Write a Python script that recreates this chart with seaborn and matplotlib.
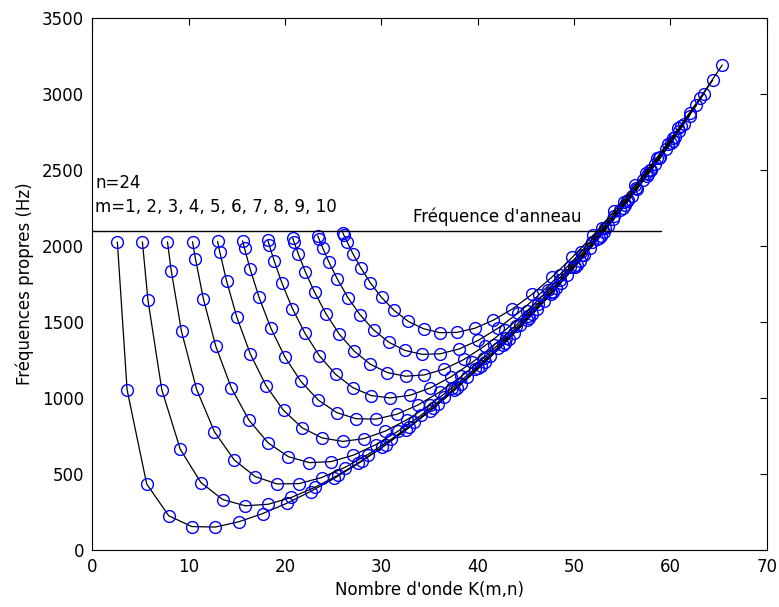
import pandas as pd
import matplotlib
matplotlib.use("Agg")
import matplotlib.pyplot as plt
import seaborn as sns

# modes m = 1..10, circumferential order n = 0..24 (25 points per curve)
mode_m = [1, 2, 3, 4, 5, 6, 7, 8, 9, 10]

K1 = [2.6, 3.61, 5.64, 7.94, 10.33, 12.77, 15.22, 17.69, 20.17, 22.65, 25.13, 27.62, 30.11,
      32.60, 35.10, 37.59, 40.08, 42.58, 45.08, 47.57, 50.07, 52.56, 55.06, 57.56, 60.06]
F1 = [2025, 1052, 432, 222, 151, 148, 183, 237, 304, 382, 469, 567, 673,
      789, 915, 1049, 1193, 1346, 1509, 1680, 1861, 2051, 2251, 2460, 2678]

K2 = [5.2, 5.77, 7.21, 9.13, 11.27, 13.54, 15.88, 18.26, 20.66, 23.09, 25.54, 27.99, 30.45,
      32.91, 35.38, 37.86, 40.34, 42.82, 45.30, 47.78, 50.27, 52.76, 55.25, 57.73, 60.23]
F2 = [2025, 1645, 1053, 660, 441, 329, 288, 298, 343, 409, 491, 586, 691,
      806, 931, 1065, 1209, 1361, 1524, 1695, 1876, 2066, 2266, 2475, 2693]

K3 = [7.8, 8.19, 9.26, 10.82, 12.68, 14.73, 16.91, 19.16, 21.47, 23.81, 26.19, 28.58, 31.0,
      33.42, 35.86, 38.30, 40.75, 43.21, 45.67, 48.14, 50.60, 53.08, 55.55, 58.03, 60.50]
F3 = [2026, 1837, 1436, 1056, 775, 590, 480, 432, 434, 474, 540, 625, 725,
      837, 959, 1092, 1236, 1388, 1550, 1722, 1902, 2092, 2292, 2501, 2719]

K4 = [10.4, 10.70, 11.54, 12.82, 14.43, 16.26, 18.25, 20.36, 22.54, 24.79, 27.08, 29.40, 31.75,
      34.12, 36.51, 38.92, 41.33, 43.75, 46.19, 48.63, 51.07, 53.52, 55.97, 58.43, 60.89]
F4 = [2027, 1916, 1648, 1338, 1064, 852, 702, 611, 572, 579, 621, 690, 780,
      884, 1003, 1134, 1275, 1426, 1587, 1758, 1938, 2129, 2328, 2536, 2754]

K5 = [13.0, 13.24, 13.93, 15.01, 16.40, 18.03, 19.85, 21.80, 23.85, 25.99, 28.18, 30.42, 32.70,
      35.00, 37.34, 39.69, 42.06, 44.44, 46.84, 49.25, 51.66, 54.09, 56.52, 58.95, 61.39]
F5 = [2029, 1957, 1770, 1528, 1288, 1079, 916, 801, 735, 712, 730, 780, 856,
      951, 1064, 1189, 1328, 1477, 1637, 1806, 1986, 2175, 2374, 2582, 2800]

K6 = [15.6, 15.80, 16.38, 17.31, 18.53, 19.99, 21.64, 23.44, 25.36, 27.38, 29.47, 31.62, 33.81,
      36.05, 38.32, 40.62, 42.93, 45.27, 47.63, 50.0, 52.38, 54.77, 57.17, 59.58, 61.99]
F6 = [2033, 1983, 1847, 1660, 1458, 1268, 1108, 985, 902, 861, 859, 891, 952,
      1037, 1141, 1261, 1394, 1541, 1698, 1866, 2045, 2234, 2432, 2640, 2856]

K7 = [18.2, 18.37, 18.87, 19.68, 20.77, 22.08, 23.58, 25.25, 27.04, 28.94, 30.92, 32.98, 35.09,
      37.25, 39.45, 41.68, 43.95, 46.23, 48.54, 50.87, 53.21, 55.57, 57.93, 60.31, 62.70]
F7 = [2040, 2004, 1902, 1755, 1587, 1423, 1275, 1154, 1066, 1014, 998, 1016, 1064,
      1138, 1233, 1346, 1475, 1618, 1773, 1939, 2116, 2303, 2500, 2707, 2924]

K8 = [20.8, 20.95, 21.39, 22.11, 23.08, 24.27, 25.64, 27.18, 28.86, 30.64, 32.52, 34.48, 36.51,
      38.59, 40.71, 42.88, 45.08, 47.32, 49.57, 51.85, 54.15, 56.47, 58.80, 61.15, 63.50]
F8 = [2051, 2023, 1945, 1829, 1693, 1551, 1418, 1307, 1220, 1165, 1141, 1150, 1188,
      1252, 1340, 1446, 1569, 1708, 1859, 2023, 2198, 2383, 2580, 2786, 3002]

K9 = [23.4, 23.53, 23.93, 24.57, 25.45, 26.53, 27.79, 29.22, 30.78, 32.46, 34.24, 36.11, 38.05,
      40.05, 42.10, 44.20, 46.34, 48.52, 50.72, 52.95, 55.20, 57.48, 59.77, 62.08, 64.40]
F9 = [2066, 2045, 1984, 1891, 1779, 1659, 1546, 1445, 1365, 1311, 1285, 1289, 1320,
      1377, 1457, 1557, 1676, 1810, 1958, 2119, 2291, 2477, 2670, 2876, 3091]

K10 = [26.0, 26.12, 26.48, 27.06, 27.86, 28.85, 30.02, 31.34, 32.80, 34.38, 36.07, 37.85, 39.70,
       41.62, 43.60, 45.63, 47.71, 49.82, 51.97, 54.15, 56.36, 58.59, 60.84, 63.11, 65.39]
F10 = [2087, 2069, 2022, 1946, 1856, 1757, 1660, 1574, 1502, 1454, 1428, 1430, 1457,
       1510, 1584, 1680, 1794, 1924, 2068, 2227, 2398, 2580, 2773, 2976, 3191]

# ring frequency line
ring_K = [0, 59]
ring_f = [2100, 2100]

K_all = [K1, K2, K3, K4, K5, K6, K7, K8, K9, K10]
F_all = [F1, F2, F3, F4, F5, F6, F7, F8, F9, F10]

rows = []
for m, ks, fs in zip(mode_m, K_all, F_all):
    for k, f in zip(ks, fs):
        rows.append((m, k, f))
df = pd.DataFrame(rows, columns=["m", "K", "f"])

sns.set_theme(style="white")
plt.rcParams["font.family"] = ["DejaVu Sans"]
plt.rcParams["axes.edgecolor"] = "black"
plt.rcParams["text.color"] = "black"
plt.rcParams["axes.labelcolor"] = "black"
plt.rcParams["xtick.color"] = "black"
plt.rcParams["ytick.color"] = "black"

fig = plt.figure(figsize=(7.79, 6.07), dpi=100)
ax = fig.add_axes([0.1185, 0.0947, 0.8657, 0.8756])

sns.lineplot(data=df, x="K", y="f", units="m", estimator=None, sort=False,
             color="black", linewidth=0.9, marker="o", markersize=8.5,
             markerfacecolor="none", markeredgecolor="#0000ff",
             markeredgewidth=1.0, legend=False, ax=ax)
sns.lineplot(x=ring_K, y=ring_f, color="black", linewidth=1.0, ax=ax, legend=False)

ax.text(0.3, 2414, "n=24", va="center", ha="left", fontsize=12)
ax.text(0.3, 2256, "m=1, 2, 3, 4, 5, 6, 7, 8, 9, 10", va="center", ha="left", fontsize=12)
ax.text(33.3, 2190, "Fréquence d'anneau", va="center", ha="left", fontsize=12)

ax.set_xlim(0, 70)
ax.set_ylim(0, 3500)
ax.set_xticks(range(0, 71, 10))
ax.set_yticks(range(0, 3501, 500))
ax.tick_params(direction="in", top=True, right=True, length=5, width=0.8, labelsize=12)
ax.tick_params(axis="x", pad=6)
ax.tick_params(axis="y", pad=6)
for s in ax.spines.values():
    s.set_visible(True)
    s.set_color("black")
    s.set_linewidth(0.8)

ax.set_xlabel("Nombre d'onde K(m,n)", fontsize=12, labelpad=4)
ax.set_ylabel("Fréquences propres (Hz)", fontsize=12, labelpad=6)

plt.savefig("out.png", dpi=100, facecolor="white")
